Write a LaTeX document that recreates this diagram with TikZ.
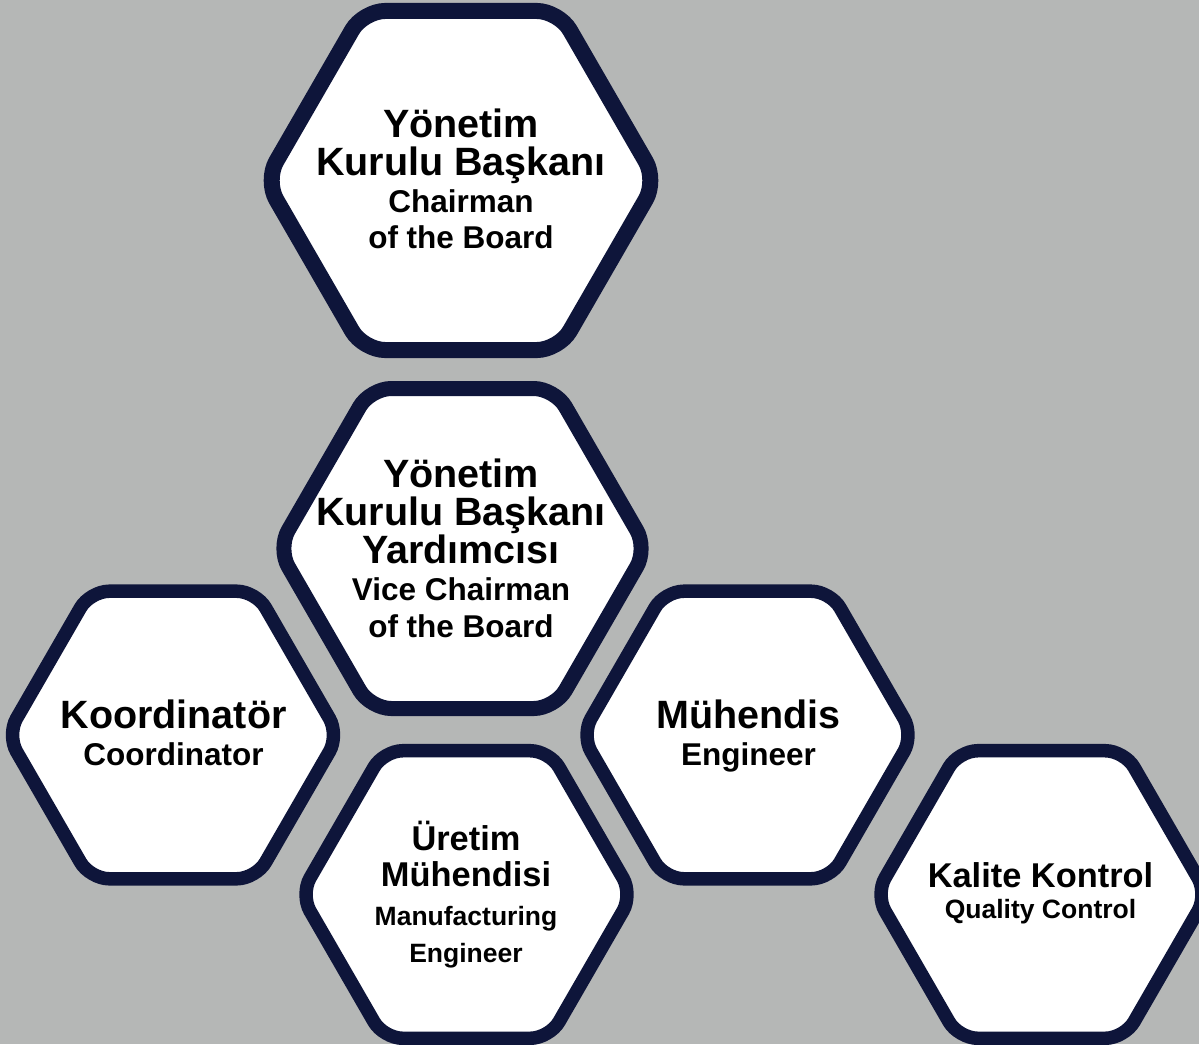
\documentclass[tikz,border=0pt]{standalone}
\usepackage{fontspec}
\setmainfont{Liberation Sans}
\usetikzlibrary{shapes.geometric}
\definecolor{bgc}{RGB}{181,183,182}
\definecolor{navy}{RGB}{14,21,58}
\begin{document}
\begin{tikzpicture}[x=1pt,y=-1pt,
  hexa/.style={regular polygon, regular polygon sides=6, draw=navy, fill=white,
    inner sep=0pt, outer sep=0pt},
  hexbig/.style={hexa, minimum size=391.5pt, line width=16pt, rounded corners=22pt},
  hexmid/.style={hexa, minimum size=369.5pt, line width=15pt, rounded corners=21pt},
  hexsmall/.style={hexa, minimum size=332pt, line width=13.5pt, rounded corners=19pt},
  txt/.style={anchor=base, inner sep=0pt, text=black},
  trA/.style={txt, font=\bfseries\fontsize{39.5pt}{40pt}\selectfont},
  enA/.style={txt, font=\bfseries\fontsize{31.5pt}{32pt}\selectfont},
  trB/.style={txt, font=\bfseries\fontsize{34.4pt}{35pt}\selectfont},
  enB/.style={txt, font=\bfseries\fontsize{26.5pt}{27pt}\selectfont}]
\useasboundingbox (0,0) rectangle (1199,1044);
\fill[bgc] (0,0) rectangle (1199,1044);
\clip (0,0) rectangle (1199,1044);

% hexagons
\node[hexbig]   (chair) at (461,180.5) {};
\node[hexmid]   (vice)  at (462.5,548.5) {};
\node[hexsmall] (coord) at (173,735) {};
\node[hexsmall] (eng)   at (747.5,735) {};
\node[hexsmall] (manu)  at (466.5,894.5) {};
\node[hexsmall] (qual)  at (1041.5,894.5) {};

% Chairman
\node[trA] (chairA) at (461,137) {Yönetim};
\node[trA] (chairB) at (461,175) {Kurulu Başkanı};
\node[enA] (chairC) at (461,212) {Chairman};
\node[enA] (chairD) at (461,248) {of the Board};

% Vice chairman
\node[trA] (viceA) at (461,487) {Yönetim};
\node[trA] (viceB) at (461,525) {Kurulu Başkanı};
\node[trA] (viceC) at (461,563) {Yardımcısı};
\node[enA] (viceD) at (461,600) {Vice Chairman};
\node[enA] (viceE) at (461,637) {of the Board};

% Coordinator
\node[trA] (coordA) at (173.5,728.5) {Koordinatör};
\node[enA] (coordB) at (173.5,765.5) {Coordinator};

% Engineer
\node[trA] (engA) at (748.5,728.5) {Mühendis};
\node[enA] (engB) at (748.5,765.5) {Engineer};

% Manufacturing engineer
\node[trB] (manuA) at (466,850) {Üretim};
\node[trB] (manuB) at (466,886) {Mühendisi};
\node[enB] (manuC) at (466,925) {Manufacturing};
\node[enB] (manuD) at (466,962) {Engineer};

% Quality control
\node[trB] (qualA) at (1040.5,887.5) {Kalite Kontrol};
\node[enB] (qualB) at (1040.5,918.5) {Quality Control};
\end{tikzpicture}
\end{document}
